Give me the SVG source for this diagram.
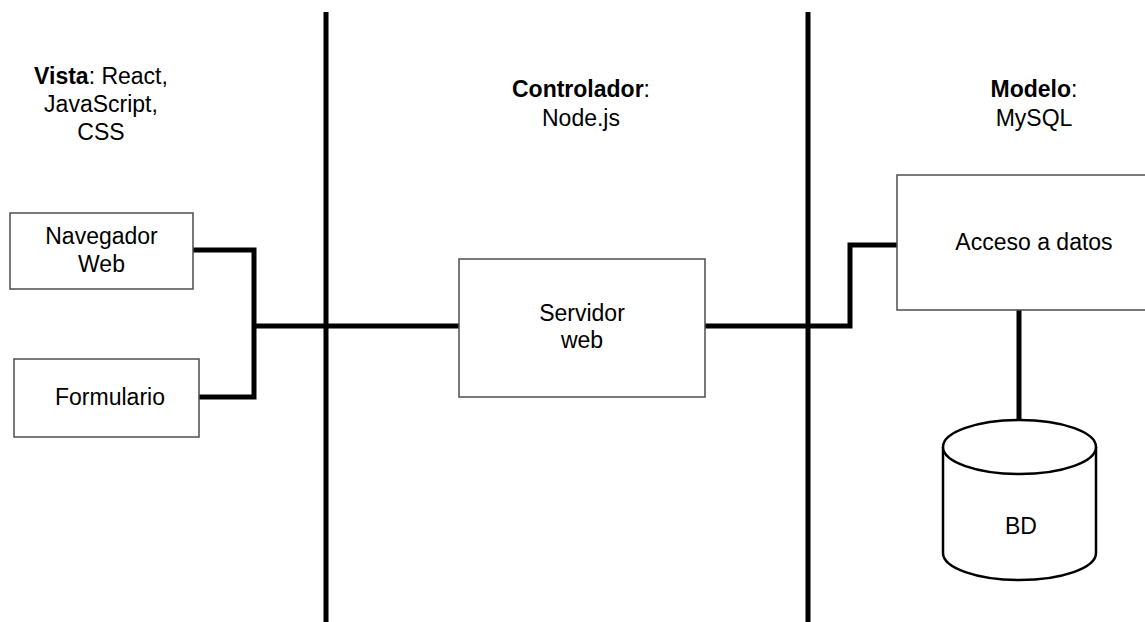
<svg xmlns="http://www.w3.org/2000/svg" width="1145" height="622" viewBox="0 0 1145 622">
<style>
  .box { fill: #fff; stroke: #4d4d4d; stroke-width: 1.5; }
  .conn { fill: none; stroke: #000; stroke-width: 5; stroke-linejoin: miter; }
  .div { fill: none; stroke: #000; stroke-width: 5; }
  .t { font-family: "Liberation Sans", Arial, sans-serif; font-size: 23px; fill: #000; text-anchor: middle; }
  .b { font-weight: bold; }
  .cyl { fill: #fff; stroke: #000; stroke-width: 2.5; }
</style>
<rect width="1145" height="622" fill="#fff"/>
<g id="dividers">
  <line class="div" x1="326" y1="12" x2="326" y2="622"/>
  <line class="div" x1="808" y1="12" x2="808" y2="622"/>
</g>
<g id="connectors">
  <polyline class="conn" points="193,250 254,250 254,397 199,397"/>
  <line class="conn" x1="254" y1="326" x2="459" y2="326"/>
  <polyline class="conn" points="705,326 850,326 850,245 897,245"/>
  <line class="conn" x1="1019" y1="310" x2="1019" y2="421"/>
</g>
<g id="label-vista">
  <text class="t" x="101" y="84"><tspan class="b">Vista</tspan>: React,</text>
  <text class="t" x="101" y="112">JavaScript,</text>
  <text class="t" x="101" y="140">CSS</text>
</g>
<g id="label-controlador">
  <text class="t" x="581" y="97"><tspan class="b">Controlador</tspan>:</text>
  <text class="t" x="581" y="126">Node.js</text>
</g>
<g id="label-modelo">
  <text class="t" x="1034" y="97"><tspan class="b">Modelo</tspan>:</text>
  <text class="t" x="1034" y="126">MySQL</text>
</g>
<g id="navegador">
  <rect class="box" x="10" y="213" width="183" height="76"/>
  <text class="t" x="101.5" y="244">Navegador</text>
  <text class="t" x="101.5" y="272">Web</text>
</g>
<g id="formulario">
  <rect class="box" x="14" y="359" width="185" height="78"/>
  <text class="t" x="110" y="405">Formulario</text>
</g>
<g id="servidor">
  <rect class="box" x="459" y="259" width="246" height="138"/>
  <text class="t" x="582" y="321">Servidor</text>
  <text class="t" x="582" y="348">web</text>
</g>
<g id="acceso">
  <rect class="box" x="897" y="175" width="270" height="135"/>
  <text class="t" x="1034" y="250">Acceso a datos</text>
</g>
<g id="bd">
  <path class="cyl" d="M943,447 A76.5,27 0 0 1 1096,447 L1096,553 A76.5,27 0 0 1 943,553 Z"/>
  <path class="cyl" fill="none" d="M943,447 A76.5,27 0 0 0 1096,447"/>
  <text class="t" x="1021" y="534">BD</text>
</g>
</svg>
